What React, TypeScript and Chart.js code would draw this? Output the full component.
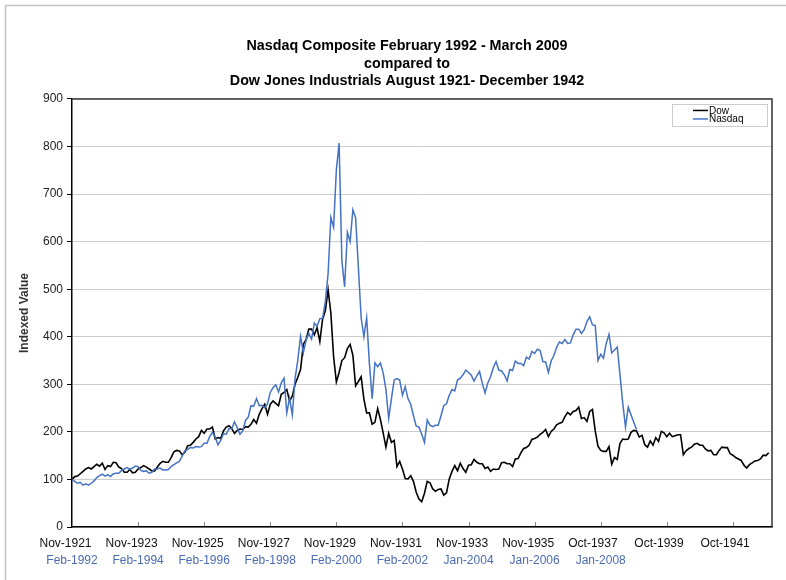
import React, { useEffect, useRef } from "react";
import { Chart, registerables } from "chart.js";

Chart.register(...registerables);

const FONT = "'Liberation Sans', Arial, Helvetica, sans-serif";

const titleLines = [
  "Nasdaq Composite February 1992 - March 2009",
  "compared to",
  "Dow Jones Industrials August 1921- December 1942",
];
const yAxisTitle = "Indexed Value";
const seriesNames = ["Dow", "Nasdaq"];

// tick positions in months from the first plotted month
const tickMonths = [0, 24, 48, 72, 96, 120, 144, 168, 192, 216, 240];
const dowTickLabels = [
  "Nov-1921", "Nov-1923", "Nov-1925", "Nov-1927", "Nov-1929", "Nov-1931",
  "Nov-1933", "Nov-1935", "Oct-1937", "Oct-1939", "Oct-1941",
];
const nasdaqTickLabels = [
  "Feb-1992", "Feb-1994", "Feb-1996", "Feb-1998", "Feb-2000", "Feb-2002",
  "Jan-2004", "Jan-2006", "Jan-2008",
];

// Dow, monthly from Nov-1921 to Dec-1942 (indexed)
const dowValues = [
  100, 106,
  107, 112, 117, 122, 125, 122, 127, 132, 128, 134, 121, 129,
  127, 136, 135, 126, 123, 115, 115, 121, 114, 115, 122, 125,
  129, 126, 122, 118, 118, 126, 134, 138, 136, 136, 146, 158,
  161, 160, 152, 157, 171, 172, 178, 185, 190, 203, 197, 206,
  206, 210, 185, 188, 186, 202, 210, 213, 207, 197, 203, 206,
  205, 211, 210, 216, 226, 218, 237, 249, 258, 237, 258, 265,
  260, 255, 279, 283, 289, 265, 275, 300, 315, 331, 384, 394,
  416, 416, 404, 419, 390, 437, 455, 499, 450, 358, 305, 325,
  350, 356, 375, 384, 361, 297, 306, 316, 269, 240, 240, 216,
  220, 249, 226, 198, 168, 197, 178, 182, 127, 138, 122, 102,
  101, 108, 96, 73, 59, 53, 71, 96, 93, 80, 75, 79,
  80, 67, 72, 101, 117, 129, 118, 134, 123, 115, 130, 131,
  142, 136, 133, 133, 123, 126, 117, 122, 121, 122, 135, 136,
  133, 133, 127, 143, 144, 156, 165, 167, 172, 184, 186, 189,
  195, 199, 205, 190, 201, 206, 215, 218, 220, 232, 241, 236,
  243, 245, 252, 228, 230, 222, 243, 247, 202, 170, 161, 159,
  159, 169, 132, 146, 142, 176, 185, 184, 185, 199, 203, 202,
  189, 193, 173, 168, 181, 172, 188, 180, 201, 198, 190, 197,
  190, 192, 194, 194, 152, 160, 165, 168, 174, 176, 172, 172,
  164, 160, 161, 152, 152, 161, 168, 167, 167, 154, 151, 146,
  143, 140, 130, 124, 131, 135, 139, 140, 143, 151, 150, 156,
];

// Nasdaq, monthly from Feb-1992 to Mar-2009 (indexed)
const nasdaqValues = [
  100, 96, 92, 94, 88, 91, 88, 92, 97, 104, 108,
  111, 107, 110, 106, 112, 113, 113, 119, 122, 125, 121, 124,
  128, 127, 119, 117, 118, 113, 115, 122, 122, 124, 120, 120,
  121, 127, 131, 135, 138, 149, 160, 163, 167, 166, 169, 168,
  169, 176, 176, 190, 199, 189, 173, 182, 196, 195, 207, 206,
  221, 209, 195, 202, 224, 231, 255, 254, 270, 255, 256, 251,
  259, 283, 293, 299, 284, 303, 313, 240, 271, 236, 312, 351,
  401, 366, 393, 407, 395, 429, 422, 438, 439, 474, 533, 651,
  630, 751, 807, 560, 505, 620, 600, 667, 650, 545, 440, 400,
  440, 344, 270, 345, 337, 345, 324, 289, 228, 270, 309, 312,
  309, 277, 295, 270, 258, 234, 212, 210, 195, 178, 225, 214,
  211, 214, 214, 234, 255, 259, 277, 289, 286, 309, 313, 320,
  330, 325, 319, 307, 318, 327, 302, 282, 303, 316, 335, 348,
  330, 328, 320, 307, 331, 329, 349, 344, 344, 339, 357, 353,
  369, 365, 374, 371, 348, 347, 325, 349, 361, 378, 389, 386,
  394, 386, 387, 404, 416, 416, 407, 415, 432, 442, 425, 424,
  350, 363, 355, 386, 405, 366, 372, 378, 320, 260, 210, 252,
  236, 220, 205,
];

const X_MAX = 254.2;
const DOW_COLOR = "#000000";
const NASDAQ_COLOR = "#4472C4";
const NASDAQ_TEXT = "#4a6cb3";

export default function App() {
  const ref = useRef<HTMLCanvasElement>(null);

  useEffect(() => {
    document.body.style.margin = "0";
    const canvas = ref.current;
    if (!canvas) return;
    Chart.defaults.font.family = FONT;

    const chrome = {
      id: "chrome",
      beforeDraw(chart: any) {
        const ctx = chart.ctx;
        ctx.save();
        ctx.fillStyle = "#ffffff";
        ctx.fillRect(0, 0, chart.width, chart.height);
        ctx.strokeStyle = "#c4c4c4";
        ctx.lineWidth = 1.5;
        ctx.beginPath();
        ctx.moveTo(5.5, chart.height);
        ctx.lineTo(5.5, 5.5);
        ctx.lineTo(chart.width, 5.5);
        ctx.stroke();
        ctx.restore();
      },
      afterDraw(chart: any) {
        const ctx = chart.ctx;
        const a = chart.chartArea;
        const xs = chart.scales.x;
        ctx.save();
        // top and right frame
        ctx.strokeStyle = "#333333";
        ctx.lineWidth = 1.5;
        ctx.beginPath();
        ctx.moveTo(a.left, a.top);
        ctx.lineTo(a.right, a.top);
        ctx.lineTo(a.right, a.bottom);
        ctx.stroke();
        // inward tick marks
        ctx.strokeStyle = "#888888";
        ctx.lineWidth = 1;
        ctx.beginPath();
        for (const m of tickMonths) {
          const px = Math.round(xs.getPixelForValue(m)) + 0.5;
          ctx.moveTo(px, a.bottom - 1);
          ctx.lineTo(px, a.bottom - 5);
        }
        ctx.stroke();
        // legend
        const lx = a.right - 100;
        const ly = a.top + 5;
        ctx.fillStyle = "#ffffff";
        ctx.fillRect(lx, ly, 96, 23);
        ctx.strokeStyle = "#cccccc";
        ctx.lineWidth = 1;
        ctx.strokeRect(lx + 0.5, ly + 0.5, 95, 22);
        const rows = [
          { name: seriesNames[0], color: DOW_COLOR, y: ly + 6.5 },
          { name: seriesNames[1], color: NASDAQ_COLOR, y: ly + 15 },
        ];
        ctx.font = `10px ${FONT}`;
        ctx.textBaseline = "middle";
        ctx.textAlign = "left";
        for (const r of rows) {
          ctx.strokeStyle = r.color;
          ctx.lineWidth = 1.5;
          ctx.beginPath();
          ctx.moveTo(lx + 21, r.y);
          ctx.lineTo(lx + 36, r.y);
          ctx.stroke();
          ctx.fillStyle = "#000000";
          ctx.fillText(r.name, lx + 37, r.y + 0.5);
        }
        ctx.restore();
      },
    };

    const chart = new Chart(canvas, {
      type: "line",
      data: {
        datasets: [
          {
            label: seriesNames[0],
            data: dowValues.map((v, i) => ({ x: i, y: v })),
            borderColor: DOW_COLOR,
            backgroundColor: DOW_COLOR,
            borderWidth: 1.6,
            pointRadius: 0,
            tension: 0,
            order: 1,
            xAxisID: "x",
            yAxisID: "y",
          },
          {
            label: seriesNames[1],
            data: nasdaqValues.map((v, i) => ({ x: i, y: v })),
            borderColor: NASDAQ_COLOR,
            backgroundColor: NASDAQ_COLOR,
            borderWidth: 1.5,
            pointRadius: 0,
            tension: 0,
            order: 0,
            xAxisID: "x",
            yAxisID: "y",
          },
        ],
      },
      options: {
        animation: false,
        responsive: false,
        devicePixelRatio: 1,
        layout: { padding: { left: 42, right: 14, top: 0, bottom: 0 } },
        plugins: {
          legend: { display: false },
          tooltip: { enabled: false },
          title: {
            display: true,
            text: titleLines,
            color: "#000000",
            font: { family: FONT, size: 14.3, weight: "bold", lineHeight: 1.23 },
            padding: { top: 37.2, bottom: 9 },
          },
        },
        scales: {
          x: {
            type: "linear",
            position: "bottom",
            min: 0,
            max: X_MAX,
            weight: 0,
            afterBuildTicks: (s: any) => {
              s.ticks = tickMonths.map((v) => ({ value: v }));
            },
            afterFit: (s: any) => {
              s.height = 24;
              s.paddingLeft = 0;
              s.paddingRight = 0;
            },
            grid: { display: false, drawTicks: false, tickLength: 0 },
            border: { display: true, color: "#000000", width: 1.5 },
            ticks: {
              autoSkip: false,
              maxRotation: 0,
              minRotation: 0,
              align: "start",
              labelOffset: -32.5,
              padding: 9.8,
              color: "#111111",
              font: { family: FONT, size: 12 },
              callback: (v: any) => {
                const i = tickMonths.indexOf(Number(v));
                return i >= 0 ? dowTickLabels[i] : "";
              },
            },
          },
          x2: {
            type: "linear",
            position: "bottom",
            min: 0,
            max: X_MAX,
            weight: 1,
            afterBuildTicks: (s: any) => {
              s.ticks = tickMonths
                .slice(0, nasdaqTickLabels.length)
                .map((v) => ({ value: v }));
            },
            afterFit: (s: any) => {
              s.height = 29;
              s.paddingLeft = 0;
              s.paddingRight = 0;
            },
            grid: { display: false, drawTicks: false, tickLength: 0 },
            border: { display: false },
            ticks: {
              autoSkip: false,
              maxRotation: 0,
              minRotation: 0,
              padding: 2.8,
              color: NASDAQ_TEXT,
              font: { family: FONT, size: 12 },
              callback: (v: any) => {
                const i = tickMonths.indexOf(Number(v));
                return i >= 0 && i < nasdaqTickLabels.length ? nasdaqTickLabels[i] : "";
              },
            },
          },
          y: {
            type: "linear",
            min: 0,
            max: 900,
            afterFit: (s: any) => {
              s.width = 30;
            },
            ticks: {
              stepSize: 100,
              padding: 4,
              color: "#222222",
              font: { family: FONT, size: 12 },
            },
            grid: {
              color: "#cccccc",
              lineWidth: 1,
              tickLength: 5,
              tickColor: "#000000",
            },
            border: { display: true, color: "#000000", width: 1.5 },
            title: {
              display: true,
              text: yAxisTitle,
              color: "#333333",
              font: { family: FONT, size: 12, weight: "bold" },
              padding: { top: -24.2, bottom: 0 },
            },
          },
        },
      },
      plugins: [chrome],
    });

    return () => chart.destroy();
  }, []);

  return (
    <div style={{ width: 786, height: 580 }}>
      <canvas ref={ref} width={786} height={580} style={{ display: "block" }} />
    </div>
  );
}
